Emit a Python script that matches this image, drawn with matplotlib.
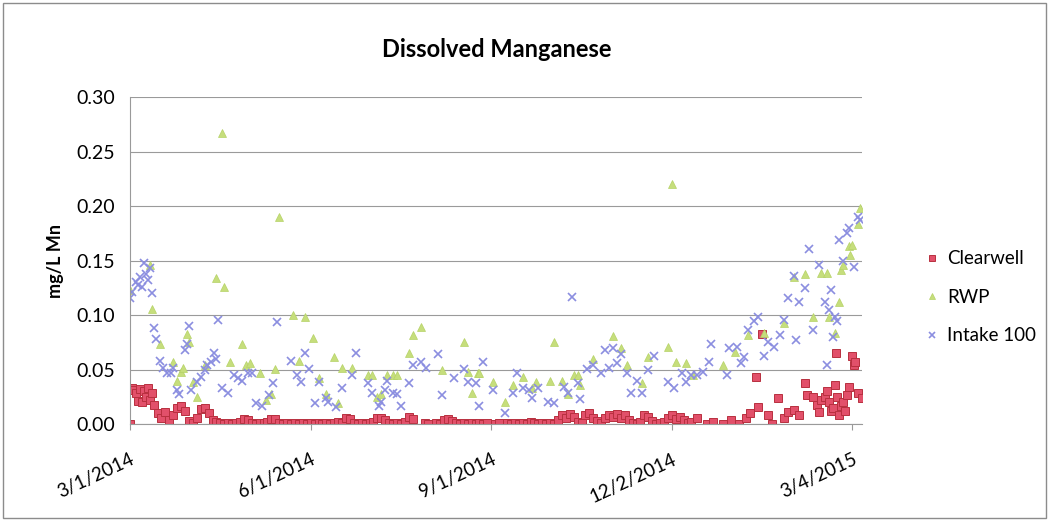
import matplotlib
matplotlib.use('Agg')
import matplotlib.pyplot as plt
import numpy as np
import pandas as pd

plt.rcParams['font.family'] = ['Lato', 'DejaVu Sans']

# data, days counted from 3/1/2014
start = pd.Timestamp('2014-03-01')

cw_days = [0, 1, 2, 3, 4, 5, 6, 7, 8, 9, 10, 11, 12,
           14, 16, 18, 20, 22, 24, 26, 28, 30, 32, 34, 36, 38, 40, 42, 44,
           46, 48, 50, 52, 54, 56, 58, 60, 62, 64, 66, 68, 70, 72, 74, 76, 78, 80,
           82, 84, 86, 88, 90, 92, 94, 96, 98, 100, 102, 104, 106, 108, 110, 112,
           114, 116, 118, 120, 122, 124, 126, 128, 130, 132, 134, 136, 138, 140,
           142, 144, 150, 152, 156, 158, 160, 162, 164, 166, 168, 170, 172, 174,
           176, 178, 180, 182, 186, 188, 192, 194, 196, 198, 200, 202, 204, 206,
           208, 210, 212, 214, 216, 218, 220, 222, 224, 226, 228, 230, 232, 234,
           236, 238, 240, 242, 244, 246, 248, 250, 252, 254, 256, 258, 260, 262,
           264, 266, 268, 270, 272, 274, 276, 278, 280, 282, 284,
           286, 289, 294, 297, 302, 306, 310, 314, 316, 319, 320, 322, 325, 327,
           330, 333, 335, 338, 341, 344, 345, 348, 350, 351, 352, 354, 355, 356,
           357, 358, 359, 359.5, 360, 361, 362, 363, 364, 365, 366, 368, 369,
           369.5, 371, 373]
cw_vals = [0.000, 0.033, 0.031, 0.029, 0.021, 0.032, 0.020, 0.030, 0.025, 0.033, 0.022, 0.029, 0.018,
           0.010, 0.006, 0.011, 0.004, 0.008, 0.015, 0.017, 0.012, 0.003, 0.001, 0.006, 0.014, 0.015, 0.010, 0.004, 0.002,
           0.001, 0.000, 0.001, 0.000, 0.001, 0.002, 0.005, 0.004, 0.001, 0.000, 0.001, 0.001, 0.002, 0.005, 0.005, 0.001, 0.000, 0.001,
           0.000, 0.001, 0.000, 0.001, 0.000, 0.001, 0.000, 0.001, 0.000, 0.001, 0.000, 0.001, 0.002, 0.001, 0.006, 0.005,
           0.001, 0.000, 0.001, 0.000, 0.001, 0.002, 0.006, 0.006, 0.004, 0.001, 0.000, 0.001, 0.000, 0.002,
           0.007, 0.005, 0.001, 0.000, 0.001, 0.000, 0.004, 0.005, 0.003, 0.001, 0.000, 0.001, 0.000, 0.001,
           0.000, 0.001, 0.000, 0.001, 0.000, 0.001, 0.001, 0.000, 0.001, 0.000, 0.001, 0.000, 0.002, 0.001,
           0.000, 0.001, 0.000, 0.001, 0.000, 0.004, 0.008, 0.006, 0.009, 0.007, 0.002, 0.001, 0.008, 0.010,
           0.006, 0.003, 0.001, 0.006, 0.008, 0.007, 0.009, 0.006, 0.008, 0.004, 0.001, 0.000, 0.002, 0.008,
           0.007, 0.003, 0.000, 0.001, 0.002, 0.006, 0.008, 0.005, 0.007, 0.004, 0.001,
           0.002, 0.006, 0.000, 0.002, 0.000, 0.004, 0.000, 0.006, 0.010, 0.043, 0.016, 0.083, 0.008, 0.000,
           0.024, 0.006, 0.011, 0.013, 0.008, 0.038, 0.027, 0.025, 0.018, 0.011, 0.022, 0.025, 0.030, 0.020,
           0.012, 0.015, 0.036, 0.065, 0.025, 0.008, 0.017, 0.020, 0.012, 0.027, 0.034, 0.063, 0.054,
           0.057, 0.029, 0.024]

rwp_days = [0, 10, 11, 15, 22, 24, 26, 27, 29, 30, 32, 34, 38, 44, 47, 48, 51, 57, 59, 61,
            66, 69, 72, 74, 76, 83, 86, 89, 93, 96, 100, 104, 106, 108, 113, 121, 123, 126,
            128, 131, 134, 136, 142, 144, 148, 159, 170, 172, 174, 177, 178, 185, 191, 195,
            200, 205, 207, 214, 216, 220, 223, 226, 228, 229, 236, 246, 250, 253, 261, 264,
            274, 276, 278, 283, 287, 302, 308, 315, 323, 333, 338, 344, 348, 352, 355, 356,
            359, 361, 362, 363, 366, 367, 368, 371, 372]
rwp_vals = [0.123, 0.146, 0.106, 0.074, 0.057, 0.040, 0.048, 0.052, 0.083, 0.075, 0.039, 0.025,
            0.054, 0.134, 0.267, 0.126, 0.057, 0.074, 0.054, 0.056, 0.047, 0.022, 0.028, 0.051,
            0.190, 0.100, 0.058, 0.098, 0.079, 0.042, 0.028, 0.062, 0.019, 0.052, 0.052, 0.045,
            0.045, 0.025, 0.028, 0.045, 0.045, 0.045, 0.065, 0.082, 0.089, 0.050, 0.075, 0.048,
            0.029, 0.047, 0.047, 0.039, 0.020, 0.036, 0.043, 0.033, 0.039, 0.040, 0.075, 0.040,
            0.028, 0.045, 0.045, 0.036, 0.060, 0.081, 0.070, 0.054, 0.038, 0.062, 0.071, 0.220,
            0.057, 0.056, 0.045, 0.054, 0.066, 0.082, 0.084, 0.093, 0.135, 0.138, 0.098, 0.139,
            0.139, 0.098, 0.084, 0.112, 0.141, 0.146, 0.163, 0.155, 0.164, 0.184, 0.198]

in_days = [0, 1, 3, 4, 5, 6, 7, 8, 9, 10, 11, 12, 13, 15, 17, 19, 21, 22, 24, 25, 28, 29, 30,
           31, 34, 36, 38, 39, 41, 43, 44, 45, 47, 50, 53, 55, 57, 60, 62, 64, 67, 71, 73, 75,
           82, 85, 87, 89, 91, 94, 96, 100, 101, 105, 108, 113, 115, 121, 123, 127, 128, 130,
           131, 134, 136, 138, 142, 144, 148, 151, 157, 159, 165, 170, 172, 176, 178, 180, 185,
           191, 195, 197, 200, 203, 205, 208, 213, 216, 221, 223, 225, 228, 229, 233, 236, 240,
           242, 244, 246, 248, 250, 253, 255, 258, 261, 264, 267, 274, 277, 281, 283, 286, 289,
           292, 295, 296, 304, 305, 309, 311, 313, 315, 318, 320, 323, 325, 328, 331, 333, 335,
           338, 339, 341, 344, 346, 348, 351, 354, 355, 356, 357, 358, 359, 360, 361, 363, 365,
           366, 369, 371, 372]
in_vals = [0.116, 0.121, 0.130, 0.128, 0.135, 0.126, 0.148, 0.138, 0.132, 0.143, 0.120, 0.088,
           0.078, 0.058, 0.052, 0.047, 0.047, 0.052, 0.031, 0.028, 0.068, 0.074, 0.090, 0.031,
           0.039, 0.043, 0.050, 0.054, 0.057, 0.065, 0.060, 0.096, 0.033, 0.029, 0.045, 0.042,
           0.040, 0.047, 0.047, 0.019, 0.017, 0.027, 0.038, 0.094, 0.058, 0.045, 0.039, 0.065,
           0.051, 0.019, 0.039, 0.024, 0.020, 0.016, 0.033, 0.045, 0.065, 0.038, 0.029, 0.017,
           0.020, 0.031, 0.040, 0.029, 0.028, 0.017, 0.038, 0.054, 0.057, 0.052, 0.064, 0.027,
           0.042, 0.051, 0.039, 0.038, 0.017, 0.057, 0.031, 0.010, 0.029, 0.047, 0.033, 0.031,
           0.024, 0.033, 0.020, 0.019, 0.034, 0.029, 0.117, 0.038, 0.023, 0.051, 0.054, 0.047,
           0.068, 0.052, 0.070, 0.056, 0.064, 0.047, 0.029, 0.040, 0.029, 0.050, 0.063, 0.039,
           0.033, 0.047, 0.039, 0.045, 0.045, 0.048, 0.057, 0.074, 0.045, 0.070, 0.071, 0.056,
           0.062, 0.086, 0.095, 0.098, 0.063, 0.075, 0.071, 0.082, 0.096, 0.116, 0.136, 0.077,
           0.112, 0.125, 0.161, 0.086, 0.146, 0.112, 0.054, 0.105, 0.123, 0.080, 0.098, 0.095,
           0.169, 0.150, 0.175, 0.180, 0.144, 0.190, 0.187]

tick_dates = ['2014-03-01', '2014-06-01', '2014-09-01', '2014-12-02', '2015-03-04']
tick_labels = ['3/1/2014', '6/1/2014', '9/1/2014', '12/2/2014', '3/4/2015']
yticks = [0.0, 0.05, 0.10, 0.15, 0.20, 0.25, 0.30]

def to_dates(days):
    return [start + pd.Timedelta(days=float(d)) for d in days]

fig = plt.figure(figsize=(10.49, 5.25), dpi=100)
ax = fig.add_axes([0.124, 0.192, 0.698, 0.623])

ax.plot(to_dates(cw_days), cw_vals, ls='none', marker='s', ms=6.2,
        mfc='#e2506a', mec='#b8303f', mew=0.7, label='Clearwell')
ax.plot(to_dates(rwp_days), rwp_vals, ls='none', marker='^', ms=6,
        mfc='#c6de7c', mec='#b5d266', mew=0.5, label='RWP')
ax.plot(to_dates(in_days), in_vals, ls='none', marker='x', ms=6,
        mec='#8b8ee0', mew=1.2, label='Intake 100')

ax.set_ylim(0, 0.30)
ax.set_xlim(start, pd.Timestamp('2015-03-09'))
ax.set_yticks(yticks)
ax.set_yticklabels(['%.2f' % v for v in yticks], fontsize=14)
ax.set_xticks([pd.Timestamp(t) for t in tick_dates])
ax.set_xticklabels(tick_labels, fontsize=13.5, rotation=25, ha='right',
                   rotation_mode='anchor')
ax.tick_params(axis='x', length=4, color='#999999', pad=15)
ax.tick_params(axis='y', length=0, pad=11)

ax.grid(axis='y', color='#9a9a9a', lw=0.8)
ax.set_axisbelow(True)
for s in ['top', 'right']:
    ax.spines[s].set_visible(False)
ax.spines['left'].set_color('#9a9a9a')
ax.spines['bottom'].set_color('#9a9a9a')

ax.set_ylabel('mg/L Mn', fontsize=13, fontweight='bold', labelpad=9)
fig.text(0.474, 0.905, 'Dissolved Manganese', fontsize=17, fontweight='bold',
         ha='center', va='center')

fig.legend(loc='center left', bbox_to_anchor=(0.862, 0.434), frameon=False,
           fontsize=13.5, labelspacing=1.15, handletextpad=0.2, handlelength=1.2,
           markerscale=0.75)

# chart area border
fig.patches.append(plt.Rectangle((0.003, 0.013), 0.994, 0.982, transform=fig.transFigure,
                                 fill=False, ec='#8c8c8c', lw=1.0))

fig.savefig('out.png', dpi=100)
